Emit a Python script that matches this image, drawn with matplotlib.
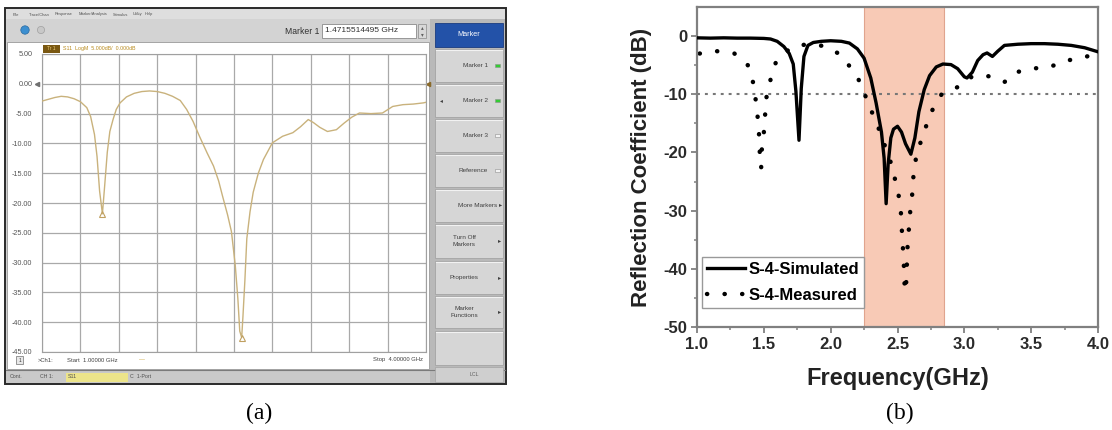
import numpy as np
import matplotlib
matplotlib.use("Agg")
import matplotlib.pyplot as plt
from matplotlib.patches import Rectangle, Circle
from matplotlib.transforms import blended_transform_factory

plt.rcParams['font.family'] = ['Liberation Sans', 'DejaVu Sans']
plt.rcParams['axes.unicode_minus'] = False

W, H = 1112, 430

# ---------------- (a) network analyser trace, S11 in dB ----------------
vna_freq = [1.00, 1.05, 1.10, 1.15, 1.20, 1.25, 1.30, 1.35, 1.38, 1.41, 1.43, 1.45,
            1.472, 1.49, 1.51, 1.53, 1.555, 1.58, 1.61, 1.66, 1.72, 1.78, 1.84,
            1.90, 1.96, 2.02, 2.08, 2.13, 2.18, 2.23, 2.29, 2.34, 2.38, 2.41, 2.45,
            2.48, 2.51, 2.53, 2.545, 2.56, 2.57, 2.585, 2.60, 2.625, 2.65, 2.69,
            2.73, 2.80, 2.88, 2.96, 3.02, 3.08, 3.12, 3.17, 3.23, 3.30, 3.36,
            3.42, 3.48, 3.57, 3.66, 3.74, 3.82, 3.90, 3.98, 4.00]
vna_db = [-2.9, -2.6, -2.3, -2.1, -2.2, -2.5, -3.0, -4.0, -5.5, -8.5, -12.2, -18.0,
          -21.81, -17.0, -11.5, -8.0, -6.0, -4.3, -3.2, -2.2, -1.6, -1.3, -1.2,
          -1.3, -1.6, -2.1, -2.8, -4.3, -6.3, -8.8, -11.6, -13.8, -16.3, -18.8, -22.0,
          -24.8, -30.5, -36.0, -41.5, -42.57, -39.0, -33.0, -26.0, -21.5, -18.2, -15.0,
          -12.7, -9.9, -8.8, -8.2, -7.2, -6.0, -6.5, -7.3, -8.0, -7.7, -6.6,
          -5.6, -4.9, -5.0, -4.9, -3.8, -3.5, -3.4, -3.2, -3.1]
marker_freq = [1.472, 2.560]
marker_db = [-21.81, -42.57]
vna_yticks = [5, 0, -5, -10, -15, -20, -25, -30, -35, -40, -45]

# ---------------- (b) simulated and measured reflection coefficient ----------------
sim_freq = [1.00, 1.10, 1.20, 1.30, 1.40, 1.50, 1.55, 1.60, 1.65, 1.69, 1.72, 1.74,
            1.763, 1.78, 1.80, 1.83, 1.87, 1.93, 2.00, 2.08, 2.14, 2.20, 2.25, 2.30,
            2.34, 2.38, 2.40, 2.415, 2.43, 2.45, 2.47, 2.50, 2.53, 2.56, 2.60, 2.63,
            2.66, 2.70, 2.74, 2.79, 2.84, 2.90, 2.95, 3.00, 3.02, 3.06, 3.10, 3.14,
            3.17, 3.21, 3.25, 3.30, 3.40, 3.50, 3.60, 3.70, 3.80, 3.90, 4.00]
sim_db = [-0.3, -0.35, -0.3, -0.35, -0.35, -0.4, -0.5, -0.9, -1.8, -3.0, -4.8, -9.5,
          -17.9, -9.0, -3.5, -1.6, -1.1, -0.9, -0.8, -0.9, -1.2, -2.2, -3.8, -7.2,
          -11.5, -16.5, -21.0, -28.8, -22.0, -17.5, -16.0, -15.5, -16.5, -18.5, -20.3, -17.5,
          -13.0, -9.2, -6.8, -5.3, -4.8, -4.9, -5.6, -7.0, -7.2, -6.2, -4.2, -3.2,
          -2.9, -3.5, -2.6, -1.6, -1.4, -1.3, -1.3, -1.4, -1.6, -2.0, -2.7]

meas_freq = [1.02, 1.15, 1.28, 1.38, 1.42, 1.44, 1.455, 1.465, 1.47, 1.48, 1.485,
             1.50, 1.51, 1.52, 1.55, 1.59, 1.70, 1.82, 1.95, 2.06, 2.15, 2.22, 2.27,
             2.32, 2.37, 2.42, 2.46, 2.49, 2.52, 2.53, 2.535, 2.545, 2.55, 2.555,
             2.565, 2.57, 2.575, 2.585, 2.595, 2.61, 2.62, 2.64, 2.68, 2.72, 2.77,
             2.83, 2.90, 2.97, 3.06, 3.18, 3.30, 3.39, 3.51, 3.65, 3.77, 3.90, 4.00]
meas_db = [-3.0, -2.6, -3.0, -5.0, -8.0, -11.1, -14.2, -17.2, -20.3, -22.7, -19.5,
           -16.6, -13.4, -10.5, -7.5, -4.5, -2.0, -1.4, -1.7, -3.0, -5.4, -7.9, -10.9,
           -13.7, -16.5, -19.8, -22.4, -25.5, -28.6, -31.8, -34.7, -37.8, -41.0, -43.9,
           -42.4, -39.4, -36.3, -33.2, -30.2, -27.2, -23.8, -20.7, -17.7, -15.1, -12.2,
           -10.0, -9.2, -8.6, -6.9, -6.9, -7.9, -6.2, -5.6, -5.2, -4.2, -3.6, -3.0]

band = (2.25, 2.85)
threshold_db = -10
series_labels = ['S-4-Simulated', 'S-4-Measured']

fig = plt.figure(figsize=(W / 100, H / 100), dpi=100)

# full-figure canvas in pixel units for the analyser window chrome
ui = fig.add_axes([0, 0, 1, 1])
ui.set_xlim(0, W)
ui.set_ylim(H, 0)
ui.axis('off')


def box(x0, y0, x1, y1, fc, ec='none', lw=0.0, z=1):
    ui.add_patch(Rectangle((x0, y0), x1 - x0, y1 - y0, facecolor=fc,
                           edgecolor=ec, linewidth=lw, zorder=z))


def txt(x, y, s, size=4.6, color='#404040', ha='left', va='center', z=5, **kw):
    ui.text(x, y, s, fontsize=size, color=color, ha=ha, va=va, zorder=z, **kw)


# window body
box(5, 8, 506, 384, '#cfcfcf', '#2a2a2a', 1.4, z=0)
# menu bar
box(6, 9, 505, 19, '#dedede', z=1)
for name, x in [('File', 13), ('Trace/Chan', 29), ('Response', 55), ('Marker/Analysis', 79),
                ('Stimulus', 113), ('Utility', 133), ('Help', 145)]:
    txt(x, 14.5, name, size=2.9, color='#505050')
# toolbar
box(6, 19, 505, 42, '#d3d3d3', z=1)
ui.add_patch(Circle((25, 30), 4.2, facecolor='#3c8fd0', edgecolor='#2a6aa0', lw=0.5, zorder=3))
ui.add_patch(Circle((41, 30), 3.6, facecolor='#c8c8c8', edgecolor='#a0a0a0', lw=0.5, zorder=3))
txt(319, 31, 'Marker 1', size=6.2, color='#303030', ha='right')
box(322, 24, 416, 38, 'white', '#8a8a8a', 0.6, z=3)
txt(325, 31, '1.4715514495 GHz', size=6.0, color='#303030')
box(418, 24, 426, 38, '#d8d8d8', '#8a8a8a', 0.5, z=3)
txt(422, 28, '▴', size=4, color='#606060', ha='center')
txt(422, 34.5, '▾', size=4, color='#606060', ha='center')

# graph area (white) and status line
box(7, 42, 429, 369, 'white', '#9a9a9a', 0.6, z=1)
box(43, 45, 60, 52.5, '#7a5812', z=3)
txt(51.5, 48.8, 'Tr 1', size=3.4, color='#f2d27a', ha='center')
txt(63, 48.8, 'S11  LogM  5.000dB/  0.000dB', size=3.8, color='#b88a1c')
txt(307, 60.5, '▸1:', size=4.2, color='#b88a1c', ha='right')
txt(307, 69.5, '2:', size=4.2, color='#b88a1c', ha='right')
txt(362, 60.5, '1.472 GHz', size=4.2, color='#b88a1c', ha='right')
txt(362, 69.5, '2.560 GHz', size=4.2, color='#b88a1c', ha='right')
txt(416, 60.5, '-21.81 dB', size=4.2, color='#b88a1c', ha='right')
txt(416, 69.5, '-42.57 dB', size=4.2, color='#b88a1c', ha='right')
box(16, 356, 23, 364, '#e8e8e8', '#707070', 0.5, z=3)
txt(19.5, 360, '1', size=3.4, color='#303030', ha='center')
txt(38, 360, '>Ch1:', size=4.2, color='#404040')
txt(67, 360, 'Start  1.00000 GHz', size=4.2, color='#404040')
txt(139, 360, '—', size=4.2, color='#c8a030')
txt(423, 360, 'Stop  4.00000 GHz', size=4.2, color='#404040', ha='right')

# bottom status bar
box(6, 370, 430, 383, '#c9c9c9', z=1)
ui.plot([6, 505], [370, 370], color='#7a7a7a', lw=0.8, zorder=2)
txt(10, 377, 'Cont.', size=3.8, color='#505050')
txt(40, 377, 'CH 1:', size=3.8, color='#505050')
box(66, 372.5, 128, 381.5, '#ece48a', z=2)
txt(68, 377, 'S11', size=3.8, color='#505050')
txt(130, 377, 'C  1-Port', size=3.8, color='#505050')

# softkey column
box(430, 19, 505, 383, '#b9b9b9', z=1)
box(435, 23, 503, 47, '#2352a8', '#1a3c80', 0.6, z=2)
txt(469, 35, 'Marker', size=5.2, color='white', ha='center')
softkeys = [
    (49, 82, 'Marker 1', 'on'),
    (84, 117, 'Marker 2', 'on'),
    (119, 152, 'Marker 3', 'off'),
    (154, 187, 'Reference', 'off'),
    (189, 222, 'More Markers ▸', None),
    (224, 258, 'Turn Off\nMarkers', 'arrow'),
    (261, 294, 'Properties', 'arrow'),
    (296, 328, 'Marker\nFunctions', 'arrow'),
    (331, 365, '', None),
]
for y0, y1, label, kind in softkeys:
    box(435, y0, 503, y1, '#d6d6d6', '#a4a4a4', 0.6, z=2)
    ui.plot([436, 502], [y0 + 1, y0 + 1], color='#f2f2f2', lw=0.8, zorder=3)
    ym = (y0 + y1) / 2
    if kind in ('on', 'off'):
        txt(488, ym, label, size=4.6, color='#404040', ha='right')
        led = '#33cc33' if kind == 'on' else '#f4f4f4'
        ui.add_patch(Rectangle((494.5, ym - 2), 5, 3.4, facecolor=led,
                               edgecolor='#909090', lw=0.4, zorder=4))
    elif kind == 'arrow':
        txt(464, ym, label, size=4.6, color='#404040', ha='center', linespacing=1.6)
        txt(500, ym, '▸', size=4.6, color='#404040', ha='center')
    elif label:
        txt(502, ym, label, size=4.6, color='#404040', ha='right')
txt(441, 100.5, '◂', size=4.2, color='#404040', ha='center')
box(435, 367, 503, 382, '#cfcfcf', '#a4a4a4', 0.5, z=2)
txt(474, 375, 'LCL', size=3.8, color='#606060', ha='center')

# trace grid
va = fig.add_axes([42 / W, 1 - 352 / H, 384 / W, 298 / H])
va.set_xlim(1, 4)
va.set_ylim(-45, 5)
va.set_xticks(np.linspace(1, 4, 11))
va.set_yticks(vna_yticks)
va.set_yticklabels([f'{v:.2f}' for v in vna_yticks])
va.grid(True, color='#a9a9a9', lw=0.9)
va.tick_params(length=0, labelbottom=False, labelsize=5.2, labelcolor='#555555', pad=7)
for s in va.spines.values():
    s.set_color('#a0a0a0')
    s.set_linewidth(0.8)
va.plot(vna_freq, vna_db, color='#c9b27c', lw=1.0, zorder=3)
va.plot(marker_freq, marker_db, ls='none', marker='^', ms=4.5, mfc='none',
        mec='#c0a060', mew=0.8, zorder=4)
edge = blended_transform_factory(va.transAxes, va.transData)
va.plot([-0.012], [0], marker='<', ms=3, color='#707070', transform=edge, clip_on=False)
va.plot([1.004], [0], marker='<', ms=3, color='#8a6a2a', transform=edge, clip_on=False)

# ---------------- (b) ----------------
ax = fig.add_axes([697 / W, 1 - 327 / H, 401 / W, 320 / H])
ax.axvspan(band[0], band[1], facecolor='#f8cab6', edgecolor='#e0a48e', lw=0.8, zorder=0)
ax.axhline(threshold_db, color='#777777', lw=1.5, ls=(0, (1.4, 2.4)), zorder=1)
ax.plot(meas_freq, meas_db, color='black', lw=3.2, ls=(0, (0.05, 3.9)),
        dash_capstyle='round', label=series_labels[1], zorder=2)
ax.plot(sim_freq, sim_db, color='black', lw=2.4, label=series_labels[0], zorder=3)
ax.set_xlim(1, 4)
ax.set_ylim(-50, 5)
ax.set_xticks(np.arange(1.0, 4.01, 0.5))
ax.set_xticks(np.arange(1.25, 4.0, 0.5), minor=True)
ax.set_yticks(np.arange(-50, 1, 10))
ax.set_yticks(np.arange(-45, 5, 10), minor=True)
ax.set_xticklabels([f'{v:.1f}' for v in np.arange(1.0, 4.01, 0.5)])
ax.tick_params(which='major', direction='out', length=4, width=1.3, color='#808080',
               labelsize=12, labelcolor='#2a2a2a', pad=3)
ax.tick_params(which='minor', direction='out', length=2.5, width=1.1, color='#808080')
for lab in ax.get_xticklabels() + ax.get_yticklabels():
    lab.set_fontweight('bold')
for s in ax.spines.values():
    s.set_color('#808080')
    s.set_linewidth(1.6)
ax.set_xlabel('Frequency(GHz)', fontsize=17, fontweight='bold', color='#222222', labelpad=11)
ax.set_ylabel('Reflection Coefficient (dB)', fontsize=16, fontweight='bold',
              color='#222222', labelpad=8)
handles, labels = ax.get_legend_handles_labels()
leg = ax.legend(handles[::-1], labels[::-1], loc='upper left',
                bbox_to_anchor=(0.0125, 0.219), frameon=True, fancybox=False,
                edgecolor='#999999', framealpha=1, prop={'weight': 'bold', 'size': 12},
                handlelength=2.3, handletextpad=0.2, borderpad=0.3, labelspacing=0.65,
                borderaxespad=0)
leg.get_frame().set_linewidth(1.0)

fig.text(259 / W, 1 - 413 / H, '(a)', ha='center', va='center',
         family=['Liberation Serif', 'DejaVu Serif'], fontsize=17)
fig.text(900 / W, 1 - 413 / H, '(b)', ha='center', va='center',
         family=['Liberation Serif', 'DejaVu Serif'], fontsize=17)

fig.savefig('out.png', dpi=100)
